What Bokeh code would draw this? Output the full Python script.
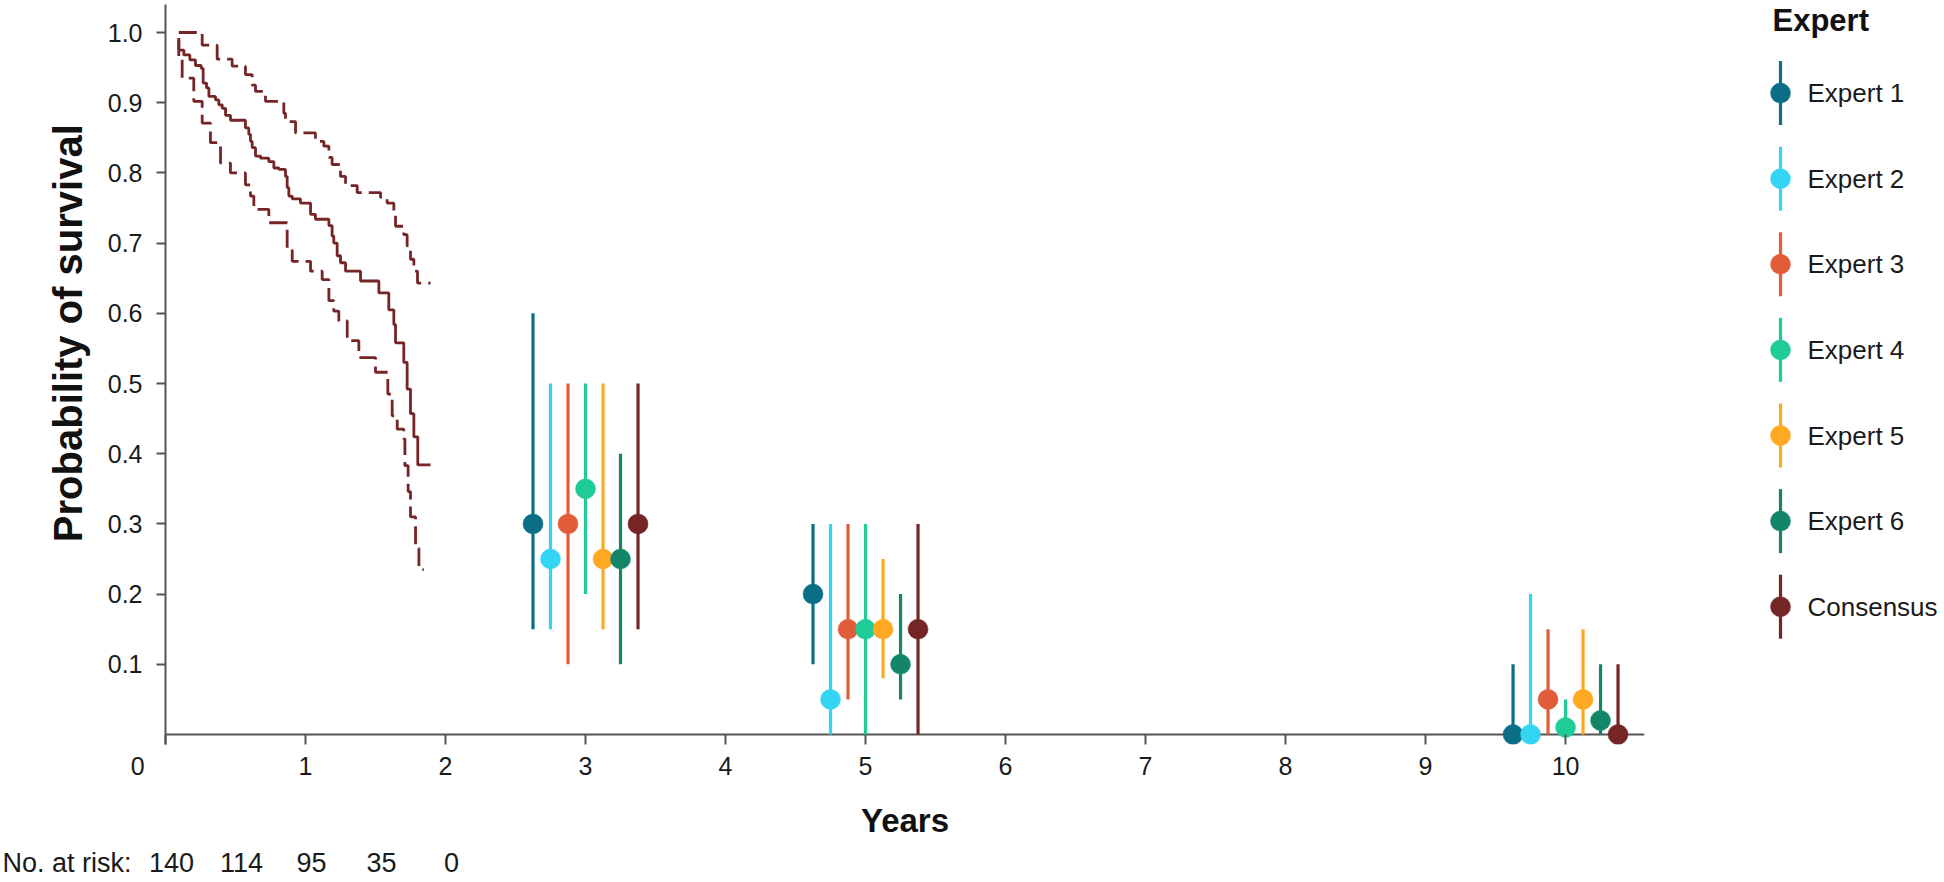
import math
from bokeh.plotting import figure
from bokeh.models import Range1d, FixedTicker, Span, NumeralTickFormatter
from bokeh.layouts import row, column
from bokeh.embed import file_html
from bokeh.resources import INLINE
from bokeh.core.properties import value

FONT = "Liberation Sans"

# ---------------- data ----------------
# Kaplan-Meier estimate (step after) and 95% CI
km_time = [0.095, 0.095, 0.131, 0.174, 0.214, 0.255, 0.269, 0.293, 0.310, 0.357,
           0.381, 0.405, 0.429, 0.464, 0.571, 0.595, 0.607, 0.619, 0.643, 0.679,
           0.738, 0.774, 0.810, 0.857, 0.869, 0.881, 0.905, 0.964, 1.036, 1.071,
           1.167, 1.190, 1.202, 1.226, 1.250, 1.286, 1.393, 1.524, 1.595, 1.631,
           1.643, 1.702, 1.726, 1.750, 1.774, 1.802, 1.893]
km_surv = [0.990, 0.975, 0.968, 0.961, 0.953, 0.949, 0.928, 0.921, 0.909, 0.904,
           0.897, 0.892, 0.882, 0.875, 0.864, 0.855, 0.845, 0.836, 0.824, 0.821,
           0.816, 0.807, 0.805, 0.795, 0.779, 0.767, 0.763, 0.757, 0.741, 0.734,
           0.725, 0.710, 0.700, 0.682, 0.672, 0.660, 0.646, 0.629, 0.605, 0.584,
           0.558, 0.530, 0.492, 0.457, 0.424, 0.384, 0.384]

ci_upper_time = [0.095, 0.262, 0.369, 0.476, 0.571, 0.619, 0.643, 0.714, 0.845, 0.857,
                 0.929, 1.071, 1.131, 1.167, 1.190, 1.250, 1.286, 1.369, 1.536, 1.583,
                 1.631, 1.643, 1.702, 1.726, 1.750, 1.774, 1.800, 1.893]
ci_upper = [1.000, 0.982, 0.962, 0.952, 0.940, 0.925, 0.916, 0.902, 0.885, 0.873,
            0.857, 0.845, 0.838, 0.822, 0.812, 0.795, 0.782, 0.772, 0.765, 0.757,
            0.740, 0.724, 0.712, 0.696, 0.677, 0.660, 0.643, 0.643]

ci_lower_time = [0.095, 0.095, 0.119, 0.202, 0.262, 0.321, 0.393, 0.464, 0.571, 0.607,
                 0.631, 0.738, 0.869, 0.905, 1.036, 1.119, 1.167, 1.202, 1.238, 1.298,
                 1.381, 1.500, 1.588, 1.619, 1.655, 1.702, 1.710, 1.733, 1.750, 1.786,
                 1.810, 1.845]
ci_lower = [0.992, 0.963, 0.935, 0.902, 0.871, 0.843, 0.814, 0.800, 0.783, 0.767,
            0.748, 0.729, 0.690, 0.674, 0.660, 0.648, 0.618, 0.603, 0.589, 0.561,
            0.537, 0.516, 0.485, 0.454, 0.435, 0.421, 0.383, 0.346, 0.310, 0.265,
            0.235, 0.235]

# Expert elicitation at 3, 5 and 10 years
years = [3, 5, 10]
experts = ["Expert 1", "Expert 2", "Expert 3", "Expert 4", "Expert 5", "Expert 6", "Consensus"]
colors = ["#0B6E87", "#34D5F2", "#E15D3A", "#1FCC98", "#FFA922", "#13866A", "#762527"]
estimate = [
    [0.30, 0.20, 0.00],
    [0.25, 0.05, 0.00],
    [0.30, 0.15, 0.05],
    [0.35, 0.15, 0.01],
    [0.25, 0.15, 0.05],
    [0.25, 0.10, 0.02],
    [0.30, 0.15, 0.00],
]
lower = [
    [0.15, 0.10, 0.00],
    [0.15, 0.00, 0.00],
    [0.10, 0.05, 0.00],
    [0.20, 0.00, 0.00],
    [0.15, 0.08, 0.00],
    [0.10, 0.05, 0.00],
    [0.15, 0.00, 0.00],
]
upper = [
    [0.60, 0.30, 0.10],
    [0.50, 0.30, 0.20],
    [0.50, 0.30, 0.15],
    [0.50, 0.30, 0.05],
    [0.50, 0.25, 0.15],
    [0.40, 0.20, 0.10],
    [0.50, 0.30, 0.10],
]
dodge = [-0.375, -0.25, -0.125, 0.0, 0.125, 0.25, 0.375]

risk_times = [0, 0.5, 1, 1.5, 2]
risk_counts = ["140", "114", "95", "35", "0"]

x_ticks = list(range(0, 11))
y_ticks = [0.1, 0.2, 0.3, 0.4, 0.5, 0.6, 0.7, 0.8, 0.9, 1.0]

# ---------------- geometry ----------------
AX = "#555555"
KM_COL = "#762527"
TXT = "#1a1a1a"

YLAB_W = 100          # width of the y-title strip
FRAME_L = 165         # frame left on the page
FRAME_R = 1644        # frame right on the page
TOP_H = 842           # height of the upper row
BOT_H = 38            # height of the risk-table strip
X_END = 10.564
PX_PER_YEAR = (FRAME_R - FRAME_L) / X_END

# ---------------- y title strip ----------------
yl = figure(width=YLAB_W, height=TOP_H, x_range=Range1d(0, YLAB_W), y_range=Range1d(TOP_H, 0),
            output_backend="svg", toolbar_location=None, x_axis_type=None, y_axis_type=None,
            min_border=0)
yl.title = None
yl.xgrid.visible = False
yl.ygrid.visible = False
yl.outline_line_color = None
yl.text(x=[67], y=[374], text=["Probability of survival"], angle=math.pi / 2,
        text_font=value(FONT), text_font_style="bold", text_font_size="40px",
        text_color="#111111", text_align="center", text_baseline="middle")

# ---------------- main plot ----------------
p = figure(width=FRAME_R - YLAB_W + 2, height=TOP_H,
           x_range=Range1d(0, X_END), y_range=Range1d(-10 / 702, 730 / 702),
           output_backend="svg", toolbar_location=None,
           min_border_left=FRAME_L - YLAB_W, min_border_right=2, min_border_top=4,
           min_border_bottom=TOP_H - 744)
p.title = None
p.xgrid.visible = False
p.ygrid.visible = False
p.outline_line_color = None

xa = p.xaxis[0]
xa.ticker = FixedTicker(ticks=x_ticks)
xa.major_label_overrides = {0: "0" + "\u00a0" * 8}
xa.axis_line_color = None
xa.major_tick_in = 10
xa.major_tick_out = 0
xa.major_tick_line_color = AX
xa.major_tick_line_width = 2
xa.minor_tick_line_color = None
xa.major_label_text_font = FONT
xa.major_label_text_font_size = "25px"
xa.major_label_text_color = TXT
xa.major_label_standoff = 7
xa.axis_label = "Years"
xa.axis_label_text_font = FONT
xa.axis_label_text_font_style = "bold"
xa.axis_label_text_font_size = "33px"
xa.axis_label_text_color = "#111111"
xa.axis_label_standoff = 19

ya = p.yaxis[0]
ya.ticker = FixedTicker(ticks=y_ticks)
ya.formatter = NumeralTickFormatter(format="0.0")
ya.axis_line_color = AX
ya.axis_line_width = 2
ya.major_tick_in = 0
ya.major_tick_out = 9
ya.major_tick_line_color = AX
ya.major_tick_line_width = 2
ya.minor_tick_line_color = None
ya.major_label_text_font = FONT
ya.major_label_text_font_size = "25px"
ya.major_label_text_color = TXT
ya.major_label_standoff = 14

p.add_layout(Span(location=0, dimension="width", line_color=AX, line_width=2, level="underlay"))

p.step(km_time, km_surv, mode="after", line_color=KM_COL, line_width=2.8)
p.step(ci_upper_time, ci_upper, mode="after", line_color=KM_COL, line_width=2.8, line_dash="18 7")
p.step(ci_lower_time, ci_lower, mode="after", line_color=KM_COL, line_width=2.8, line_dash="18 7")

for i, name in enumerate(experts):
    xs = [yr + dodge[i] for yr in years]
    p.segment(x0=xs, y0=lower[i], x1=xs, y1=upper[i], line_color=colors[i], line_width=3.2)
    p.scatter(xs, estimate[i], size=20, fill_color=colors[i], line_color=colors[i], line_width=0.5)

# ---------------- number-at-risk strip ----------------
bt = figure(width=FRAME_R + 2, height=BOT_H,
            x_range=Range1d(-FRAME_L / PX_PER_YEAR, (FRAME_R + 2 - FRAME_L) / PX_PER_YEAR),
            y_range=Range1d(0, 1),
            output_backend="svg", toolbar_location=None, x_axis_type=None, y_axis_type=None,
            min_border=0)
bt.title = None
bt.xgrid.visible = False
bt.ygrid.visible = False
bt.outline_line_color = None
bt.text(x=[-163 / PX_PER_YEAR], y=[0.47], text=["No. at risk:"], text_font=value(FONT),
        text_font_size="27px", text_color=TXT, text_align="left", text_baseline="middle")
bt.text(x=risk_times, y=[0.47] * len(risk_times), text=risk_counts, x_offset=6,
        text_font=value(FONT), text_font_size="27px", text_color=TXT,
        text_align="center", text_baseline="middle")

# ---------------- legend panel ----------------
LEG_W = 294
LEG_H = TOP_H + BOT_H
lg = figure(width=LEG_W, height=LEG_H, x_range=Range1d(0, LEG_W), y_range=Range1d(LEG_H, 0),
            output_backend="svg", toolbar_location=None, x_axis_type=None, y_axis_type=None,
            min_border=0)
lg.title = None
lg.xgrid.visible = False
lg.ygrid.visible = False
lg.outline_line_color = None

lg.text(x=[126], y=[20], text=["Expert"], text_font=value(FONT), text_font_style="bold",
        text_font_size="31px", text_color="#111111", text_baseline="middle", text_align="left")
item_y = [92.6 + 85.6 * i for i in range(len(experts))]
for i, name in enumerate(experts):
    yy = item_y[i]
    lg.segment(x0=[134], y0=[yy - 32], x1=[134], y1=[yy + 32], line_color=colors[i], line_width=3.2)
    lg.scatter([134], [yy], size=20, fill_color=colors[i], line_color=colors[i], line_width=0.5)
    lg.text(x=[161], y=[yy], text=[name], text_font=value(FONT), text_font_size="26px",
            text_color=TXT, text_baseline="middle", text_align="left")

layout = row(column(row(yl, p), bt), lg)
open("out.html", "w").write(file_html(layout, INLINE))
